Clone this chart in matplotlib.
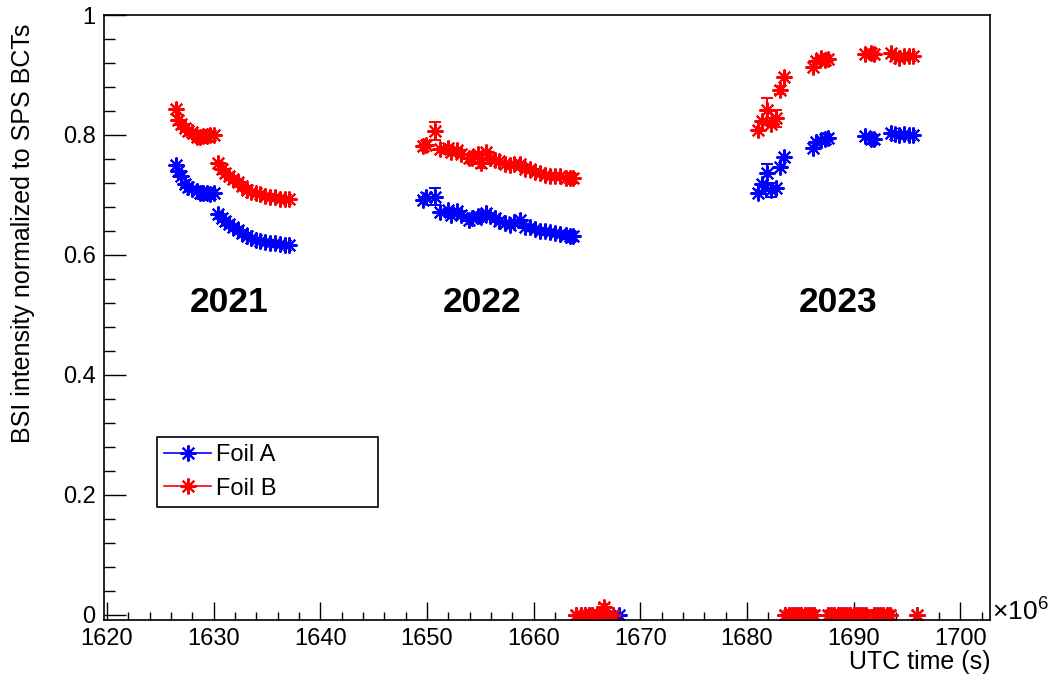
import matplotlib.pyplot as plt
from matplotlib.lines import Line2D
from matplotlib.ticker import MultipleLocator

plt.rcParams['font.family'] = ['Liberation Sans', 'DejaVu Sans']
plt.rcParams['mathtext.fontset'] = 'custom'
plt.rcParams['mathtext.rm'] = 'Liberation Sans'

# time in units of 1e6 s
x21_a = [1626.44, 1626.66, 1626.94, 1627.3, 1627.6, 1628.0, 1628.4, 1628.7, 1629.0, 1629.4, 1629.7, 1630.0]
x21_b = [1630.38, 1630.75, 1631.06, 1631.44, 1631.84, 1632.25, 1632.63, 1633.1, 1633.5,
         1633.94, 1634.34, 1634.81, 1635.28, 1635.75, 1636.22, 1636.69, 1637.06]
x22 = [1649.6, 1649.9, 1650.75, 1651.2, 1652.0, 1652.3, 1652.8, 1653.2, 1653.9, 1654.2, 1654.8,
       1655.1, 1655.5, 1655.9, 1656.4, 1656.8, 1657.3, 1657.8, 1658.2, 1658.7, 1659.2, 1659.7,
       1660.1, 1660.6, 1661.1, 1661.5, 1662.0, 1662.5, 1663.0, 1663.4, 1663.7]
x23 = [1681.06, 1681.37, 1681.84, 1682.25, 1682.69, 1683.09, 1683.5, 1686.2, 1686.5, 1686.9,
       1687.3, 1687.6, 1691.1, 1691.6, 1691.9, 1693.5, 1693.9, 1694.3, 1694.7, 1695.2, 1695.6]

foilA_21a = [0.750, 0.740, 0.732, 0.718, 0.714, 0.710, 0.706, 0.703, 0.703, 0.703, 0.702, 0.703]
foilB_21a = [0.843, 0.825, 0.818, 0.812, 0.807, 0.805, 0.797, 0.797, 0.798, 0.798, 0.800, 0.800]
foilA_21b = [0.668, 0.662, 0.657, 0.652, 0.647, 0.642, 0.637, 0.632, 0.628, 0.625, 0.623, 0.621,
             0.620, 0.619, 0.618, 0.617, 0.617]
foilB_21b = [0.753, 0.744, 0.737, 0.732, 0.726, 0.721, 0.715, 0.709, 0.705, 0.703, 0.701, 0.699,
             0.697, 0.696, 0.693, 0.693, 0.693]
foilA_22 = [0.692, 0.696, 0.697, 0.672, 0.675, 0.667, 0.673, 0.667, 0.658, 0.661, 0.664, 0.663,
            0.669, 0.664, 0.661, 0.657, 0.653, 0.650, 0.654, 0.658, 0.647, 0.646, 0.643, 0.640,
            0.639, 0.638, 0.636, 0.634, 0.633, 0.632, 0.632]
foilB_22 = [0.781, 0.784, 0.806, 0.777, 0.778, 0.771, 0.775, 0.769, 0.761, 0.762, 0.768, 0.753,
            0.771, 0.762, 0.758, 0.756, 0.751, 0.750, 0.752, 0.751, 0.744, 0.743, 0.739, 0.736,
            0.734, 0.732, 0.732, 0.731, 0.729, 0.728, 0.728]
foilA_23 = [0.703, 0.719, 0.736, 0.708, 0.711, 0.747, 0.764, 0.779, 0.789, 0.792, 0.793, 0.795,
            0.799, 0.794, 0.793, 0.803, 0.801, 0.800, 0.801, 0.800, 0.800]
foilB_23 = [0.808, 0.824, 0.842, 0.819, 0.828, 0.875, 0.896, 0.914, 0.924, 0.928, 0.925, 0.926,
            0.935, 0.936, 0.935, 0.936, 0.932, 0.929, 0.932, 0.932, 0.932]

# points with visible error bars: (x, y, err)
errA = [(1650.75, 0.697, 0.014), (1681.84, 0.736, 0.016), (1682.25, 0.708, 0.012)]
errB = [(1650.75, 0.806, 0.015), (1655.1, 0.753, 0.008), (1681.84, 0.842, 0.020),
        (1682.69, 0.828, 0.014), (1683.09, 0.875, 0.006), (1666.6, 0.012, 0.006)]

# runs where the BSI read zero
x_zero = [1664.0, 1664.4, 1664.8, 1665.2, 1665.5, 1665.9, 1666.2, 1667.0, 1667.4,
          1683.6, 1683.9, 1684.2, 1684.5, 1684.8, 1685.1, 1685.4, 1685.7, 1686.0, 1686.3,
          1687.6, 1687.9, 1688.2, 1688.5, 1688.8, 1689.1, 1689.4, 1689.7, 1690.0, 1690.3,
          1690.6, 1690.9, 1691.2, 1691.9, 1692.2, 1692.5, 1692.8, 1693.1, 1693.4, 1695.9]
x_zero_A_extra = [1666.6, 1668.0]
x_zero_B_extra = [1666.6]
y_zero_B_extra = [0.012]

year_labels = ['2021', '2022', '2023']
year_x = [1631.5, 1655.2, 1688.5]
year_y = 0.52

marker = (8, 2, 0)
ms = 11.5
mew = 1.5

fig = plt.figure(figsize=(10.5, 6.85), dpi=100)
ax = fig.add_axes([0.099, 0.095, 0.844, 0.883])

xA = x21_a + x21_b + x22 + x23 + x_zero + x_zero_A_extra
yA = foilA_21a + foilA_21b + foilA_22 + foilA_23 + [0.0] * len(x_zero) + [0.0, 0.0]
xB = x21_a + x21_b + x22 + x23 + x_zero + x_zero_B_extra
yB = foilB_21a + foilB_21b + foilB_22 + foilB_23 + [0.0] * len(x_zero) + y_zero_B_extra

ax.plot(xA, yA, linestyle='none', marker=marker, color='#0000ff', ms=ms, mew=mew)
for (x, y, e) in errA:
    ax.errorbar([x], [y], yerr=[e], fmt='none', ecolor='#0000ff', capsize=4, elinewidth=1.4, capthick=1.4)
ax.plot(xB, yB, linestyle='none', marker=marker, color='#ff0000', ms=ms, mew=mew)
for (x, y, e) in errB:
    ax.errorbar([x], [y], yerr=[e], fmt='none', ecolor='#ff0000', capsize=4, elinewidth=1.4, capthick=1.4)

for lab, xx in zip(year_labels, year_x):
    ax.text(xx, year_y, lab, fontsize=25.5, fontweight='bold', ha='center', va='center')

ax.set_xlim(1619.72, 1702.8)
ax.set_ylim(-0.009, 1.0)
ax.xaxis.set_major_locator(MultipleLocator(10))
ax.xaxis.set_minor_locator(MultipleLocator(2))
ax.yaxis.set_major_locator(MultipleLocator(0.2))
ax.yaxis.set_minor_locator(MultipleLocator(0.04))
ax.yaxis.set_major_formatter(plt.FuncFormatter(lambda v, p: '0' if abs(v) < 1e-9 else ('1' if abs(v - 1) < 1e-9 else f'{v:.1f}')))
ax.tick_params(axis='x', which='major', length=13)
ax.tick_params(axis='x', which='minor', length=6)
ax.tick_params(axis='y', which='major', length=16)
ax.tick_params(axis='y', which='minor', length=8)
ax.tick_params(which='both', direction='in', width=1, top=False, right=False)
ax.tick_params(which='major', labelsize=17, pad=6)
for s in ax.spines.values():
    s.set_linewidth(1.2)

fig.text(0.022, 0.966, 'BSI intensity normalized to SPS BCTs', rotation=90,
         ha='center', va='top', fontsize=18)
fig.text(0.943, 0.033, 'UTC time (s)', ha='right', va='center', fontsize=18)
fig.text(0.945, 0.108, r'$\times 10^{6}$', ha='left', va='center', fontsize=19)

handles = [Line2D([], [], color='#0000ff', marker=marker, ms=ms, mew=mew, lw=1.2),
           Line2D([], [], color='#ff0000', marker=marker, ms=ms, mew=mew, lw=1.2)]
leg = ax.legend(handles, ['Foil A', 'Foil B'], loc='lower left', bbox_to_anchor=(0.06, 0.187, 0.249, 0.124),
                mode='expand', fontsize=17, frameon=True, fancybox=False, framealpha=1,
                edgecolor='black', borderpad=0.3, borderaxespad=0, handlelength=2.0,
                handletextpad=0.2, labelspacing=0.5)
leg.get_frame().set_linewidth(1.2)

fig.savefig('out.png', dpi=100)
